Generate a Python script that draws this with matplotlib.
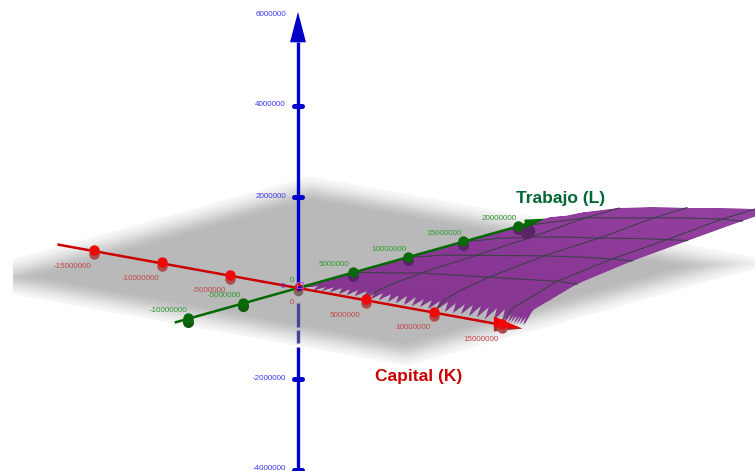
import numpy as np
import matplotlib
matplotlib.use("Agg")
import matplotlib.pyplot as plt
from matplotlib.colors import LinearSegmentedColormap
from matplotlib.patches import Polygon, Rectangle

plt.rcParams['font.family'] = ['Liberation Sans', 'DejaVu Sans']

# ---- data (millions) ----
k_ticks = [-15, -10, -5, 5, 10, 15]
l_ticks = [-10, -5, 5, 10, 15, 20]
z_ticks = [-4, -2, 2, 4, 6]
k_labels = ['-15000000', '-10000000', '-5000000', '5000000', '10000000', '15000000']
l_labels = ['-10000000', '-5000000', '5000000', '10000000', '15000000', '20000000']
z_labels = ['-4000000', '-2000000', '2000000', '4000000', '6000000']

surf_k = [0, 1, 2.5, 5, 7.5, 10, 12.5, 15, 16.5]
surf_l = [0, 0.3, 1, 2.5, 5, 10, 15, 20, 23]
surf_z = [
    [0, 0, 0, 0, 0, 0, 0, 0, 0],
    [0, .02, .04, .07, .08, .09, .10, .11, .13],
    [0, .04, .09, .14, .18, .22, .26, .31, .33],
    [0, .06, .12, .20, .26, .33, .37, .42, .45],
    [0, .055, .13, .26, .35, .44, .53, .62, .64],
    [0, .066, .18, .31, .44, .57, .68, .77, .81],
    [0, .077, .21, .37, .51, .62, .75, .86, .92],
    [0, .088, .23, .46, .59, .73, .86, .97, 1.01],
    [0, .088, .24, .47, .62, .75, .88, .99, 1.06],
]
grid_k = [5, 10, 15]
grid_l = [5, 10, 15, 20]
plane_k = (-17.2, 17.2)
plane_l = (-11.3, 22.3)
axis_k = (-17.6, 14.4, 16.5)
axis_l = (-11.1, 20.6, 22.5)
axis_z = (-4.0, 5.4, 6.07)
z_under = [(-0.33, -0.86), (-0.92, -1.21)]

RED, GREEN, BLUE = '#cc0000', '#006a00', '#0000cc'


def project(k, l, z=0):
    """Oblique projection of the 3D view (values in millions) to the canvas."""
    k, l, z = np.asarray(k, float), np.asarray(l, float), np.asarray(z, float)
    return 298 + 13.6 * k + 11.0 * l, 288 + 2.46 * k - 3.08 * l - 45.5 * z


fig = plt.figure(figsize=(7.55, 4.71), dpi=100)
ax = fig.add_axes([0, 0, 1, 1])
ax.set_xlim(0, 755)
ax.set_ylim(471, 0)
ax.axis('off')

# ---- xOy plane with faded edges ----
pk = np.linspace(*plane_k, 140)
pl = np.linspace(*plane_l, 140)
PK, PL = np.meshgrid(pk, pl)
d_k = np.minimum(PK - plane_k[0], plane_k[1] - PK) / 3.8
d_l = np.minimum(PL - plane_l[0], plane_l[1] - PL) / 4.6
fade = np.clip(np.minimum(d_k, d_l), 0, 1)
fade = 0.5 * fade + 0.5 * fade * fade * (3 - 2 * fade)
shade = 0.725 + 0.245 * (1 - fade)
X, Y = project(PK, PL)
plane = ax.pcolormesh(X, Y, shade, shading='gouraud', cmap='gray', vmin=0, vmax=1, zorder=1)
plane.set_clip_path(Rectangle((13, 0), 742, 471, transform=ax.transData))

# ---- z axis part seen through the plane ----
for z0, z1 in z_under:
    x, y = project([0, 0], [0, 0], [z0, z1])
    ax.plot(x, y, color='#45459c', lw=2.4, solid_capstyle='butt', zorder=2)

# ---- surface ----
SK, SL = np.meshgrid(surf_k, surf_l)
SZ = np.array(surf_z)
MX, MY = project(SK, SL, SZ)
cmap = LinearSegmentedColormap.from_list('s', ['#85358f', '#8a3896', '#9440a0'])
mesh = ax.pcolormesh(MX, MY, SL / 23 + SK / 60, shading='gouraud', cmap=cmap, vmin=0, vmax=1.2, zorder=3)


def surface_z(k, l):
    col = [np.interp(k, surf_k, row) for row in surf_z]
    return np.interp(l, surf_l, col)


outline = []
for l, z in zip(surf_l, SZ[:, 0]):
    outline.append(project(0, l, z))
for k, z in zip(surf_k, SZ[-1]):
    outline.append(project(k, 23, z))
for l, z in list(zip(surf_l, SZ[:, -1]))[::-1][:-1]:
    outline.append(project(16.5, l, z))
k_tooth = 16.4
while k_tooth > 0.8:
    step = 0.22 if k_tooth > 15 else 0.6
    notch = 0.6 if k_tooth > 15 else 0.85
    outline.append(project(k_tooth, 0.15, surface_z(k_tooth, 0.15)))
    outline.append(project(k_tooth - step / 2, notch, surface_z(k_tooth - step / 2, notch)))
    k_tooth -= step
outline = np.array(outline, float)
mesh.set_clip_path(Polygon(outline, closed=True, transform=ax.transData))

# grid lines on the surface
for kv in grid_k:
    j = surf_k.index(kv)
    x, y = project(SK[1:, j], SL[1:, j], SZ[1:, j])
    ax.plot(x, y, color='#3f3f4a', lw=0.8, zorder=4)
for lv in grid_l:
    i = surf_l.index(lv)
    x, y = project(SK[i], SL[i], SZ[i])
    ax.plot(x, y, color='#3f3f4a', lw=0.8, zorder=4)

# ---- axes ----
x, y = project([0, 0], [0, 0], [0, axis_z[1]])
ax.plot(x, y, color=BLUE, lw=2.4, solid_capstyle='butt', zorder=5)
x, y = project([0, 0], [0, 0], [axis_z[0], -1.30])
ax.plot(x, y, color=BLUE, lw=2.4, solid_capstyle='butt', zorder=5)
x, y = project([axis_k[0], axis_k[1]], [0, 0])
ax.plot(x, y, color=RED, lw=1.8, zorder=6)
x, y = project([0, 0], [axis_l[0], axis_l[1]])
ax.plot(x, y, color=GREEN, lw=1.8, zorder=6)

# arrow heads
bx, by = project(0, 0, axis_z[1])
tx, ty = project(0, 0, axis_z[2])
ax.fill([bx - 8, bx + 8, tx], [by, by, ty], color='#0000c8', lw=0, zorder=7)
bx, by = project(axis_k[1], 0)
tx, ty = project(axis_k[2], 0)
ax.fill([bx, bx, tx], [by - 2, by + 8, ty], color='#a82a2a', lw=0, zorder=6.5)
ax.fill([bx, bx, tx], [by - 7, by + 3, ty], color='#ee0000', lw=0, zorder=7)
bx, by = project(0, axis_l[1])
tx, ty = project(0, axis_l[2])
ax.fill([bx, bx, tx], [by - 5, by + 4, ty], color=GREEN, lw=0, zorder=7)
ax.plot([bx + 2], [by + 6], 'o', ms=11, color='#5a2566', mew=0, zorder=5)

# tick dots
for kv in k_ticks:
    x, y = project(kv, 0)
    ax.plot([x], [y + 3], 'o', ms=7.5, color='#b04a4a', mew=0, zorder=6.6)
    ax.plot([x], [y - 1], 'o', ms=7.5, color='#ee0a0a', mew=0, zorder=7)
for lv in l_ticks:
    x, y = project(0, lv)
    under = '#5a2566' if lv > 0 else '#0f5c0f'
    ax.plot([x], [y + 3], 'o', ms=8, color=under, mew=0, zorder=6.6)
    ax.plot([x], [y - 0.5], 'o', ms=7.5, color='#0a6a0a', mew=0, zorder=7)
for zv in z_ticks[:-1]:
    x, y = project(0, 0, zv)
    ax.plot([x - 4, x + 4], [y, y], color=BLUE, lw=3.6, solid_capstyle='round', zorder=7)

# origin
ox, oy = project(0, 0)
ax.plot([ox], [oy + 3], 'o', ms=7, color='#7a6a60', mew=0, zorder=6.6)
ax.plot([ox], [oy - 1], 'o', ms=6, color='#cc2010', mew=0, zorder=7)
ax.plot([ox + 1], [oy], 'o', ms=3.5, color='#0000cc', mew=0, zorder=7.5)
ax.plot([ox + 2], [oy - 3], 's', ms=4, mfc='none', mec='#cc44dd', mew=0.6, zorder=7.5)

# ---- tick labels ----
FS = 5.8
for kv, s in zip(k_ticks, k_labels):
    x, y = project(kv, 0)
    ax.text(x - 21, y + 15, s, color='#c04a4a', fontsize=FS, ha='center', va='center', zorder=8)
for lv, s in zip(l_ticks, l_labels):
    x, y = project(0, lv)
    ax.text(x - 19, y - 8, s, color='#2f9a2f', fontsize=FS, ha='center', va='center', zorder=8)
for zv, s in zip(z_ticks, z_labels):
    x, y = project(0, 0, zv)
    ax.text(286, y - 1, s, color='#3a3af0', fontsize=FS, ha='right', va='center', zorder=8)
ax.text(283, 286, '0', color='#3a3af0', fontsize=FS, ha='center', va='center', zorder=8)
ax.text(292, 280, '0', color='#2f9a2f', fontsize=FS, ha='center', va='center', zorder=8)
ax.text(292, 303, '0', color='#c04a4a', fontsize=FS, ha='center', va='center', zorder=8)

# ---- axis titles ----
ax.text(560.5, 198, 'Trabajo (L)', color='#006633', fontsize=12.5, fontweight='bold', ha='center', va='center', zorder=9)
ax.text(418.5, 376, 'Capital (K)', color='#cc0000', fontsize=12.5, fontweight='bold', ha='center', va='center', zorder=9)

fig.savefig('out.png', dpi=100)
